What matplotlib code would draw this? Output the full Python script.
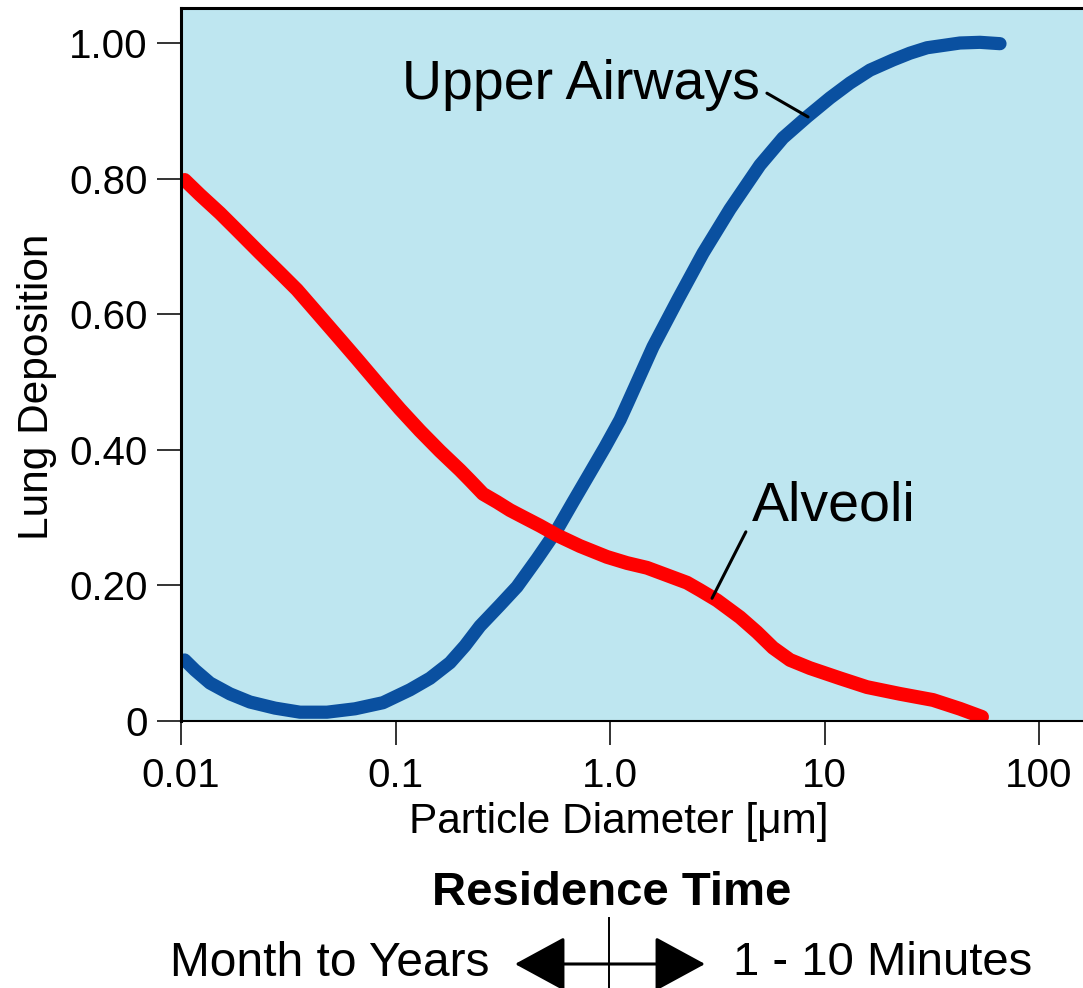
import matplotlib
matplotlib.use("Agg")
import matplotlib.pyplot as plt
from matplotlib.patches import FancyArrowPatch

plt.rcParams['font.family'] = ['Liberation Sans', 'DejaVu Sans']

# particle diameter in micrometres vs. deposited fraction
upper_d = [0.0104, 0.01162, 0.01365, 0.01692, 0.02097, 0.02743, 0.03588, 0.04794, 0.06477,
           0.08745, 0.1168, 0.1448, 0.1795, 0.2109, 0.2477, 0.3070, 0.3685, 0.4568, 0.5662,
           0.6722, 0.8069, 0.9478, 1.1132, 1.2133, 1.5868, 2.0749, 2.7143, 3.6259, 5.0035,
           6.4044, 8.2853, 10.61, 13.15, 16.30, 20.86, 25.03, 30.06, 42.83, 53.08, 65.80]
upper_dep = [0.090, 0.075, 0.056, 0.040, 0.028, 0.019, 0.013, 0.013, 0.018,
             0.027, 0.046, 0.063, 0.086, 0.111, 0.140, 0.171, 0.198, 0.239, 0.282,
             0.323, 0.366, 0.404, 0.444, 0.470, 0.552, 0.622, 0.690, 0.755, 0.820,
             0.860, 0.891, 0.919, 0.941, 0.960, 0.975, 0.985, 0.993, 1.000, 1.001, 0.999]

alv_d = [0.0104, 0.01227, 0.01520, 0.01825, 0.02335, 0.02894, 0.03474, 0.04446, 0.05511,
         0.06614, 0.08467, 0.1049, 0.1301, 0.1613, 0.1999, 0.2225, 0.2558, 0.2973, 0.3419,
         0.3930, 0.4717, 0.5662, 0.7248, 0.9683, 1.2002, 1.4875, 1.8442, 2.2856, 2.6278,
         3.1537, 4.0370, 4.8454, 5.7544, 6.9072, 8.5566, 11.81, 15.78, 22.49, 32.05, 42.83, 54.25]
alv_dep = [0.798, 0.776, 0.749, 0.724, 0.690, 0.661, 0.636, 0.597, 0.563,
           0.534, 0.494, 0.460, 0.428, 0.398, 0.370, 0.355, 0.335, 0.323, 0.311,
           0.301, 0.288, 0.274, 0.258, 0.242, 0.233, 0.226, 0.215, 0.204, 0.193,
           0.178, 0.153, 0.131, 0.108, 0.090, 0.078, 0.063, 0.050, 0.040, 0.031, 0.018, 0.006]

xticks = [0.01, 0.1, 1.0, 10, 100]
xtick_labels = ['0.01', '0.1', '1.0', '10', '100']
yticks = [0, 0.2, 0.4, 0.6, 0.8, 1.0]
ytick_labels = ['0', '0.20', '0.40', '0.60', '0.80', '1.00']

W, H = 1083, 988
fig = plt.figure(figsize=(W / 100, H / 100), dpi=100)
ax = fig.add_axes([181 / W, (H - 721) / H, (W - 181) / W, (721 - 8) / H])
ax.set_facecolor('#bee6f0')

ax.plot(upper_d, upper_dep, color='#0a50a0', lw=9.5, solid_capstyle='round', solid_joinstyle='round')
ax.plot(alv_d, alv_dep, color='#ff0000', lw=10, solid_capstyle='round', solid_joinstyle='round')

ax.set_xscale('log')
ax.set_xlim(0.01, 10 ** ((W - 181) / 214.5 - 2))
ax.set_ylim(0, 1 + 35 / 678)
ax.set_xticks(xticks)
ax.set_xticklabels(xtick_labels)
ax.set_yticks(yticks)
ax.set_yticklabels(ytick_labels)
ax.minorticks_off()
ax.tick_params(axis='both', direction='out', length=17, width=1.4, color='#333333',
               labelsize=29, pad=7)
ax.tick_params(axis='x', pad=9)

ax.spines['right'].set_visible(False)
ax.spines['left'].set_linewidth(2.2)
ax.spines['top'].set_linewidth(2.2)
ax.spines['bottom'].set_linewidth(1.5)

# curve labels with leader lines
ax.text(5.0, 0.938, 'Upper Airways', fontsize=40, ha='right', va='center')
ax.annotate('', xy=(8.38, 0.891), xytext=(5.39, 0.926),
            arrowprops=dict(arrowstyle='-', lw=2.2, color='black', shrinkA=0, shrinkB=0))
ax.text(4.59, 0.316, 'Alveoli', fontsize=40, ha='left', va='center')
ax.annotate('', xy=(2.99, 0.181), xytext=(4.30, 0.279),
            arrowprops=dict(arrowstyle='-', lw=2.2, color='black', shrinkA=0, shrinkB=0))

fig.text(37 / W, 1 - 387 / H, 'Lung Deposition', fontsize=30.5, rotation=90, ha='center', va='center')
fig.text(619 / W, 1 - 822 / H, 'Particle Diameter [μm]', fontsize=30.5, ha='center', va='center')

# residence time scale under the axis
fig.text(612 / W, 1 - 893 / H, 'Residence Time', fontsize=34, fontweight='bold', ha='center', va='center')
fig.text(490 / W, 1 - 963 / H, 'Month to Years', fontsize=34.5, ha='right', va='center')
fig.text(733 / W, 1 - 963 / H, '1 - 10 Minutes', fontsize=34, ha='left', va='center')
arrow = FancyArrowPatch((515, H - 964), (705, H - 964), transform=None,
                        arrowstyle='<|-|>,head_length=2.3,head_width=1.25',
                        lw=2.2, color='black', shrinkA=0, shrinkB=0, mutation_scale=14)
fig.add_artist(arrow)
fig.add_artist(plt.Line2D([609 / W, 609 / W], [0, 1 - 918 / H], transform=fig.transFigure,
                          color='black', lw=1.4))

fig.savefig('out.png', dpi=100)
